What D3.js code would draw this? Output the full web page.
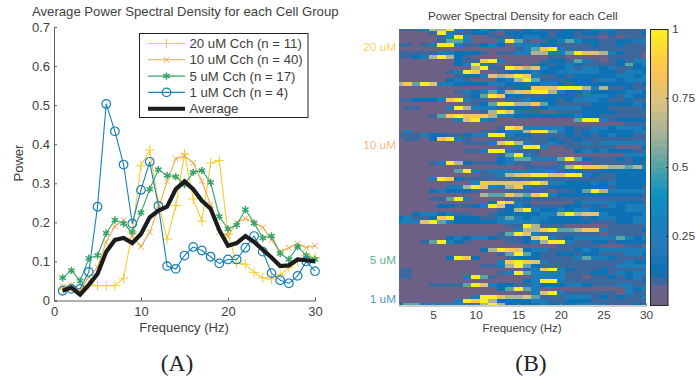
<!DOCTYPE html>
<html><head><meta charset="utf-8">
<script src="https://cdnjs.cloudflare.com/ajax/libs/d3/7.8.5/d3.min.js"></script>
<style>
html,body{margin:0;padding:0;background:#fff}
svg{display:block}
text{font-family:"Liberation Sans",Arial,sans-serif;fill:#404040}
</style></head><body><svg id="c" width="696" height="381"></svg>
<script>
const freqs = d3.range(1,31);
const power20 = [.03,.035,.03,.04,.038,.038,.038,.057,.175,.345,.385,.25,.157,.243,.375,.26,.203,.352,.358,.17,.095,.093,.072,.058,.055,.066,.085,.1,.115,.11];
const power10 = [.035,.04,.025,.06,.085,.15,.19,.205,.165,.138,.175,.235,.305,.363,.37,.352,.305,.245,.175,.165,.2,.21,.2,.187,.155,.125,.135,.145,.135,.14];
const power5 = [.058,.077,.05,.108,.115,.172,.206,.197,.175,.225,.285,.335,.32,.317,.297,.328,.333,.302,.215,.183,.193,.233,.198,.16,.165,.12,.105,.138,.115,.105];
const power1 = [.025,.03,.03,.073,.24,.503,.433,.348,.197,.283,.355,.242,.088,.081,.115,.137,.128,.112,.095,.105,.105,.135,.165,.125,.07,.052,.044,.063,.1,.075];
const powerAvg = [.025,.033,.015,.04,.068,.125,.155,.16,.147,.17,.213,.23,.24,.285,.305,.285,.255,.235,.18,.14,.147,.165,.15,.13,.11,.088,.09,.105,.103,.1];
const seriesNames = ["20 uM Cch (n = 11)","10 uM Cch (n = 40)","5 uM Cch (n = 17)","1 uM Cch (n = 4)","Average"];
const seriesColors = ["#f6cd30","#eea84a","#37a368","#1780b8","#1c1c1c"];
const groupLabels = ["20 uM","10 uM","5 uM","1 uM"];
const groupRows = [4.5,29.5,58.5,68.5];
const groupColors = ["#f8d266","#f3bb80","#62b38a","#4c98c8"];
const leftXTicks = [0,10,20,30];
const leftYTicks = [0,.1,.2,.3,.4,.5,.6,.7];
const heatXTicks = [5,10,15,20,25,30];
const barTicks = [.25,.5,.75,1];
// Level of each cell, one string per cell, one character per frequency 1..30
const levelValues = [.03,.085,.14,.25,.36,.5,.63,.75,.86,1];
const heatRows = [
"111366931232310231112213331111","000019311221022222122122121112","000001493001112332122111010111",
"000001553000395101235422112233","110139931123203332211112112111","000000000000001358931111111111",
"111113322210113366335977632110","112369621000000000110000011110","000000021189300001221531012133",
"000000023931001012123211112523","000000000691198673223133231122","000000139800122232233333221332",
"000000012237679831121222223323","000000231000236951112221332333","685973322223322223321222222212",
"000000000000112288799963611211","000000013235367899632232222332","000000001259822111222133321322",
"112223893110011322212333211211","000000000125996685211112222232","011000396333122212333322211112",
"000000000016973110011122221111","000015898886332222222322111111","000000037931000000000599312222",
"000000000000000000000000000111","000000000000198333332113323332","030000000011233699532123222233",
"111322112339932211112121232211","011028931000011111211211111111","000000001113796311321131333333",
"000000000000003993001111110002","000000001139931110000232322211","000000000000159310000000000333",
"000000000000235533359521112122","000013962111231100010001111121","000000000000000111136988766563",
"000000059313333333312211222222","000000000011367899779932112222","000039821111111111111111112222",
"000000000487777897332223232222","000000336974368311222222212221","000023222100011111011259633333",
"000000000065586589322222222221","000011593000011211111111111111","000000000002983100000233332221",
"000002211239723211112212132333","000000000000126932232332222333","002332311001222223369677322223",
"231128922211353233222212332233","333795322222333332222221112233","000000000000011961110000011111",
"000000000000003668955688311112","000000000000159731111111011111","000000232332111279312333335323",
"000159321000011236993112212222","000000000000000000011111000110","000000000026987233111232333333",
"000000000000159521122122111332","000000298200012221111353321111","000000000000389873111111111322",
"000000000011369521111111113333","110000000000000138932111211111","110000000000139533331112213233",
"110000003951000033331101121231","000000000000000239931111111112","000011115973221132223321113311",
"000000000000259530000000000323","000000000000000037931111110311","000000000399766751113331212113",
"000000039896222233112221111111","255333333369622223222333211121"];

const svg = d3.select("#c");
const txt = "#404040", axisCol = "#606060";

// ---------- Left panel ----------
const x = d3.scaleLinear().domain([0,30]).range([54,315]);
const y = d3.scaleLinear().domain([0,.7]).range([300.5,27]);
const ax = svg.append("g").attr("transform","translate(0,300.5)").call(d3.axisBottom(x).tickValues(leftXTicks).tickSize(-3).tickPadding(6).tickFormat(d3.format("d")));
const ay = svg.append("g").attr("transform","translate(54,0)").call(d3.axisLeft(y).tickValues(leftYTicks).tickSize(-3).tickPadding(4).tickFormat(d=>d===0?"0":d3.format(".1f")(d)));
[ax,ay].forEach(g=>{g.selectAll("path,line").attr("stroke",axisCol);g.selectAll("text").attr("font-size",13).attr("fill",txt).attr("font-family","Liberation Sans");});

const line = d3.line().x((d,i)=>x(freqs[i])).y(d=>y(d));
const allSeries = [power20,power10,power5,power1,powerAvg];
const symbols = [d3.symbolPlus,d3.symbolTimes,d3.symbolAsterisk,d3.symbolCircle,null];
const symSize = [34,24,38,58,0];
const widths = [1.1,1.1,1.1,1.1,4.2];
function marker(g,i){
  g.attr("d",d3.symbol().type(symbols[i]).size(symSize[i])()).attr("fill","none").attr("stroke",seriesColors[i]).attr("stroke-width",i===2?1.5:(i===3?1.2:1));
}
allSeries.forEach((s,i)=>{
  svg.append("path").attr("d",line(s)).attr("fill","none").attr("stroke",seriesColors[i]).attr("stroke-width",widths[i]).attr("stroke-linejoin",i===4?"miter":"round");
  if(symbols[i]) svg.append("g").selectAll("path").data(s).join("path")
    .attr("transform",(d,k)=>`translate(${x(freqs[k])},${y(d)})`).call(marker,i);
});
svg.append("text").attr("x",32).attr("y",15.5).attr("font-size",13.15).text("Average Power Spectral Density for each Cell Group");
svg.append("text").attr("text-anchor","middle").attr("x",184).attr("y",332).attr("font-size",13).text("Frequency (Hz)");
svg.append("text").attr("text-anchor","middle").attr("transform","translate(23,163) rotate(-90)").attr("font-size",13).text("Power");

// legend
const legend = svg.append("g");
legend.append("rect").attr("x",139.5).attr("y",33.5).attr("width",168.5).attr("height",84).attr("fill","#fff").attr("stroke","#222").attr("stroke-width",1);
seriesNames.forEach((n,i)=>{
  const ly = 43.5+i*16.3;
  legend.append("line").attr("x1",148).attr("x2",185).attr("y1",ly).attr("y2",ly).attr("stroke",seriesColors[i]).attr("stroke-width",i===4?4:1.1);
  if(symbols[i]) legend.append("path").attr("transform",`translate(166.5,${ly})`).call(marker,i);
  legend.append("text").attr("x",189.5).attr("y",ly+4.5).attr("font-size",13.2).text(n);
});

// ---------- Right panel ----------
const hx = d3.scaleLinear().domain([1,30]).range([399,646]);
const hy = d3.scaleLinear().domain([0,heatRows.length-1]).range([29,305]);
const stops = [0,.06,.12,.2,.3,.4,.5,.62,.74,.85,1];
const cols = ["#6f6283","#6a6189","#0a70b4","#2678b8","#1a80bc","#0b92c2","#52a2a8","#a5b398","#dcc181","#fdc251","#fcf11c"];
const color0 = d3.scaleLinear().domain(stops).range(cols);
const nBands = 40;
const color = v=>color0(Math.min(Math.floor(v*nBands)+.5,nBands-.5)/nBands);
const defs = svg.append("defs");
defs.append("clipPath").attr("id","hc").append("rect").attr("x",399).attr("y",29).attr("width",247).attr("height",276);
defs.append("filter").attr("id","soft").attr("x",0).attr("y",0).attr("width",1).attr("height",1).append("feGaussianBlur").attr("stdDeviation",.45);
const cw = hx(2)-hx(1), ch = hy(1)-hy(0);
const cells = [];
heatRows.forEach((r,ri)=>r.split("").forEach((c,ci)=>cells.push({r:ri,f:freqs[ci],v:levelValues[+c]})));
const heatOuter = svg.append("g").attr("clip-path","url(#hc)");
heatOuter.append("g").attr("filter","url(#soft)").attr("shape-rendering","crispEdges").selectAll("rect").data(cells).join("rect")
  .attr("x",d=>hx(d.f)-cw/2).attr("y",d=>hy(d.r)-ch/2).attr("width",cw+.3).attr("height",ch+.3).attr("fill",d=>color(d.v));
const hax = svg.append("g").attr("transform","translate(0,305.5)").call(d3.axisBottom(hx).tickValues(heatXTicks).tickSize(-2).tickPadding(5).tickFormat(d3.format("d")));
hax.selectAll("path,line").attr("stroke","#999");
hax.selectAll("text").attr("font-size",11.8).attr("fill",txt).attr("font-family","Liberation Sans");
svg.append("text").attr("text-anchor","middle").attr("x",522).attr("y",332).attr("font-size",11.5).text("Frequency (Hz)");
svg.append("text").attr("x",428).attr("y",20).attr("font-size",11.65).text("Power Spectral Density for each Cell");
groupLabels.forEach((g,i)=>svg.append("text").attr("text-anchor","end").attr("x",396).attr("y",hy(groupRows[i])+4).attr("font-size",11.8).style("fill",groupColors[i]).text(g));

// colorbar
const cb = d3.scaleLinear().domain([0,1]).range([305,29]);
svg.append("g").attr("shape-rendering","crispEdges").selectAll("rect").data(d3.range(nBands)).join("rect")
  .attr("x",651).attr("width",17).attr("y",d=>cb((d+1)/nBands)).attr("height",d=>cb(d/nBands)-cb((d+1)/nBands)+.5).attr("fill",d=>color((d+.5)/nBands));
svg.append("rect").attr("x",650.5).attr("y",29.5).attr("width",17.5).attr("height",276).attr("fill","none").attr("stroke","#222");
const cax = svg.append("g").attr("transform","translate(668,0)").call(d3.axisRight(cb).tickValues(barTicks).tickSize(-2).tickPadding(4).tickFormat(d=>String(d)));
cax.select("path").remove();
cax.selectAll("line").attr("stroke","#222");
cax.selectAll("text").attr("font-size",11.8).attr("fill",txt).attr("font-family","Liberation Sans");

// captions
[["(A)",177],["(B)",531]].forEach(([t,cx])=>svg.append("text").attr("x",cx).attr("y",371).attr("text-anchor","middle").attr("font-size",23.5).style("font-family","'Liberation Serif',serif").style("fill","#222").text(t));
</script></body></html>
